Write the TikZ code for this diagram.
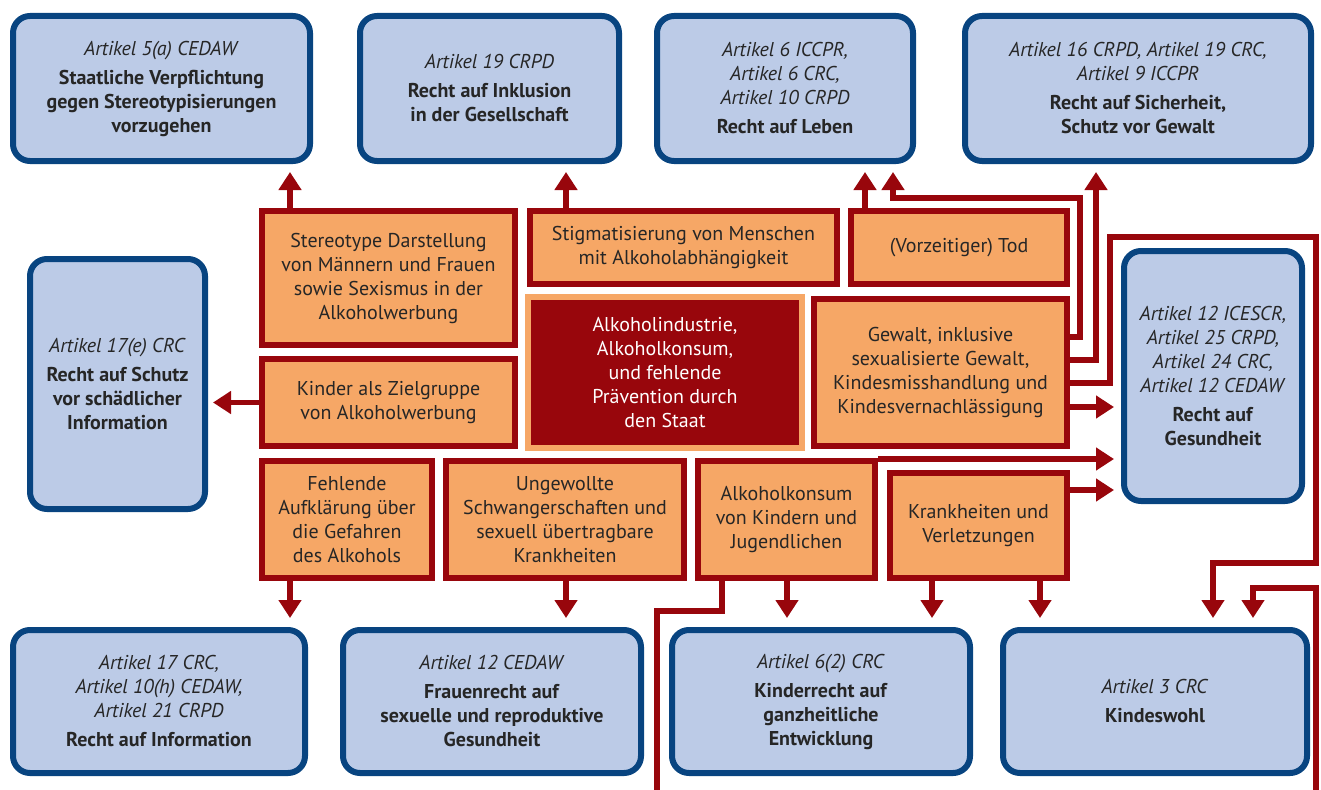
\documentclass[tikz,border=0pt]{standalone}
\usepackage{fontspec}
\setmainfont{PT Sans}
\usetikzlibrary{arrows.meta}
\definecolor{rightblue}{RGB}{188,203,231}
\definecolor{rightedge}{RGB}{8,68,128}
\definecolor{causeorange}{RGB}{246,167,102}
\definecolor{causered}{RGB}{152,6,12}
\definecolor{inktext}{RGB}{38,38,38}

\begin{document}
\begin{tikzpicture}[x=1pt, y=-1pt, line join=miter,
  font=\fontsize{20}{24}\selectfont,
  rightsbox/.style={draw=rightedge, fill=rightblue, line width=6pt, rounded corners=17pt, align=center, text=inktext, inner sep=0pt},
  causebox/.style={draw=causered, fill=causeorange, line width=6pt, align=center, text=inktext, inner sep=0pt},
  corebox/.style={draw=causeorange, fill=causered, line width=6pt, align=center, text=white, inner sep=0pt},
  arr/.style={draw=causered, line width=5.5pt, -{Triangle[width=22pt,length=18pt]}},
  wire/.style={draw=causered, line width=5.5pt}]
\useasboundingbox (0,0) rectangle (1321,789);

% --- 1. TOP ROW: THE RIGHTS ---
\node[rightsbox, minimum width=297pt, minimum height=145pt] (b1) at (161.5,88.5)
  {\textit{Artikel 5(a) CEDAW}\\[5pt] \textbf{Staatliche Verpflichtung}\\ \textbf{gegen Stereotypisierungen}\\ \textbf{vorzugehen}};
\node[rightsbox, minimum width=259pt, minimum height=145pt] (b2) at (489.5,88.5)
  {\textit{Artikel 19 CRPD}\\[5pt] \textbf{Recht auf Inklusion}\\ \textbf{in der Gesellschaft}};
\node[rightsbox, minimum width=256pt, minimum height=145pt] (b3) at (785,88.5)
  {\textit{Artikel 6 ICCPR,}\\ \textit{Artikel 6 CRC,}\\ \textit{Artikel 10 CRPD}\\[5pt] \textbf{Recht auf Leben}};
\node[rightsbox, minimum width=346pt, minimum height=145pt] (b4) at (1138,88.5)
  {\textit{Artikel 16 CRPD, Artikel 19 CRC,}\\ \textit{Artikel 9 ICCPR}\\[5pt] \textbf{Recht auf Sicherheit,}\\ \textbf{Schutz vor Gewalt}};

% --- 2. SIDES ---
\node[rightsbox, minimum width=175pt, minimum height=250pt] (bl) at (117.5,384)
  {\textit{Artikel 17(e) CRC}\\[5pt] \textbf{Recht auf Schutz}\\ \textbf{vor schädlicher}\\ \textbf{Information}};
\node[rightsbox, minimum width=178pt, minimum height=250pt] (br) at (1213,376)
  {\textit{Artikel 12 ICESCR,}\\ \textit{Artikel 25 CRPD,}\\ \textit{Artikel 24 CRC,}\\ \textit{Artikel 12 CEDAW}\\[5pt] \textbf{Recht auf}\\ \textbf{Gesundheit}};

% --- 3. BOTTOM ROW ---
\node[rightsbox, minimum width=292pt, minimum height=143pt] (b5) at (159,701.5)
  {\textit{Artikel 17 CRC,}\\ \textit{Artikel 10(h) CEDAW,}\\ \textit{Artikel 21 CRPD}\\[5pt] \textbf{Recht auf Information}};
\node[rightsbox, minimum width=298pt, minimum height=143pt] (b6) at (492,701.5)
  {\textit{Artikel 12 CEDAW}\\[5pt] \textbf{Frauenrecht auf}\\ \textbf{sexuelle und reproduktive}\\ \textbf{Gesundheit}};
\node[rightsbox, minimum width=298pt, minimum height=143pt] (b7) at (821,701.5)
  {\textit{Artikel 6(2) CRC}\\[5pt] \textbf{Kinderrecht auf}\\ \textbf{ganzheitliche}\\ \textbf{Entwicklung}};
\node[rightsbox, minimum width=304pt, minimum height=143pt] (b8) at (1155,701.5)
  {\textit{Artikel 3 CRC}\\[5pt] \textbf{Kindeswohl}};

% --- 4. THE CAUSES ---
\node[corebox, minimum width=274pt, minimum height=151pt] (core) at (665,372.5)
  {Alkoholindustrie,\\ Alkoholkonsum,\\ und fehlende\\ Prävention durch\\ den Staat};
\node[causebox, minimum width=253pt, minimum height=134pt] (o1) at (388.5,278)
  {Stereotype Darstellung\\ von Männern und Frauen\\ sowie Sexismus in der\\ Alkoholwerbung};
\node[causebox, minimum width=307pt, minimum height=73pt] (o2) at (683.5,247.5)
  {Stigmatisierung von Menschen\\ mit Alkoholabhängigkeit};
\node[causebox, minimum width=216pt, minimum height=73pt] (o3) at (959,247.5)
  {(Vorzeitiger) Tod};
\node[causebox, minimum width=253pt, minimum height=87pt] (o4) at (388.5,402.5)
  {Kinder als Zielgruppe\\ von Alkoholwerbung};
\node[causebox, minimum width=253pt, minimum height=147pt] (o5) at (940.5,372.5)
  {Gewalt, inklusive\\ sexualisierte Gewalt,\\ Kindesmisshandlung und\\ Kindesvernachlässigung};
\node[causebox, minimum width=170pt, minimum height=117pt] (o6) at (347,519.5)
  {Fehlende\\ Aufklärung über\\ die Gefahren\\ des Alkohols};
\node[causebox, minimum width=238pt, minimum height=117pt] (o7) at (565,519.5)
  {Ungewollte\\ Schwangerschaften und\\ sexuell übertragbare\\ Krankheiten};
\node[causebox, minimum width=177pt, minimum height=117pt] (o8) at (786.5,519.5)
  {Alkoholkonsum\\ von Kindern und\\ Jugendlichen};
\node[causebox, minimum width=177pt, minimum height=105pt] (o9) at (978.5,525.5)
  {Krankheiten und\\ Verletzungen};

% --- 5. CONNECTORS ---
% straight up to the top row
\foreach \src/\dst/\xx in {o1/b1/290, o2/b2/566, o3/b3/865}
  \draw[arr, shorten >=8pt] (\src.north -| \xx,0) -- (\dst.south -| \xx,0);
% straight down to the bottom row
\foreach \src/\dst/\xx in {o6/b5/290, o7/b6/566, o8/b7/787, o9/b7/932, o9/b8/1040}
  \draw[arr, shorten >=9pt] (\src.south -| \xx,0) -- (\dst.north -| \xx,0);
% to the left
\draw[arr, shorten >=5pt] (o4.west) -- (bl.east |- o4.west);
% into the health box
\draw[arr, shorten >=7pt] (o5.east |- 0,407) -- (br.west |- 0,407);
\draw[arr, shorten >=7pt] (o8.north east |- 0,459) -- (br.west |- 0,459);
\draw[arr, shorten >=7pt] (o9.east |- 0,490) -- (br.west |- 0,490);
% Gewalt: round the boxes
\draw[arr, shorten >=8pt] (o5.east |- 0,337) -| (1080,198) -| (b3.south -| 893,0);
\draw[arr, shorten >=8pt] (o5.east |- 0,360) -| (b4.south -| 1096,0);
\draw[arr, shorten >=9pt] (o5.east |- 0,383) -| (1110,237) -| (1316,563) -| (b8.north -| 1213,0);
% the long way round, under the picture
\draw[wire] (o8.south -| 722,0) |- (657,611) -- (657,800);
\draw[arr, shorten >=9pt] (1316,800) |- (1253,588) -- (b8.north -| 1253,0);

\end{tikzpicture}
\end{document}
